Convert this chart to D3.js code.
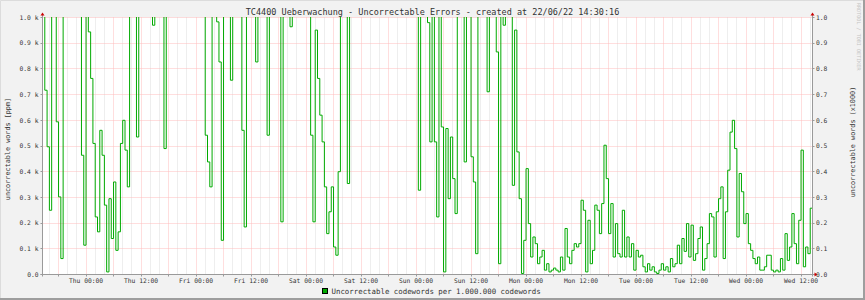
<!DOCTYPE html>
<html>
<head>
<meta charset="utf-8">
<script src="https://cdn.jsdelivr.net/npm/d3@7"></script>
<style>
  body { margin: 0; background: #f2f2f2; }
  text { font-family: "DejaVu Sans Mono", monospace; }
</style>
</head>
<body>
<script>
// values above the rigid 1.0 k limit are clipped away, like rrdtool does
const H = 1500;

const startTime = new Date(Date.UTC(2022, 5, 15, 14, 30));
const endTime = new Date(Date.UTC(2022, 5, 22, 14, 30));
const stepMinutes = 30;

// uncorrectable codewords per 1.000.000, one value per 30 minutes
const errorValues = [
  H, 717, 497, 250, H, H, 594, 302, 62, H,
  H, H, H, H, H, H, H, 464, 114, H,
  944, 763, 510, 224, 166, 561, 464, 270, 10, 295,
  140, 360, 94, 166, 510, 600, 484, 341, H, H,
  H, 535, H, H, H, H, H, H, 970, H,
  H, H, H, 490, H, H, H, H, H, H,
  H, H, H, H, H, H, H, H, H, H,
  H, 542, 438, 341, H, H, 983, 827, 133, H,
  H, H, 756, H, H, H, H, 561, 185, H,
  H, H, H, 827, H, H, H, H, 542, H,
  H, H, H, H, 205, H, H, H, 964, H,
  H, H, H, H, H, H, H, 542, 205, 951,
  763, 620, 516, 341, 159, 244, 341, 107, 75, 400,
  H, H, H, 354, H, H, H, H, H, H,
  H, H, H, H, H, H, H, H, H, H,
  H, H, H, H, H, H, H, H, H, H,
  H, H, H, H, 328, H, H, H, 980, 516,
  H, 516, 224, H, 574, 10, 568, 295, 535, 373,
  237, H, H, H, 438, H, H, 458, 360, 81,
  H, H, H, H, 711, H, H, H, 866, 42,
  H, 970, H, H, H, 347, 951, 477, 295, 4,
  133, 412, 198, 68, 146, 120, 42, 68, 94, 17,
  42, 10, 17, 25, 17, 10, 68, 17, 179, 68,
  42, 94, 120, 107, 120, 289, 250, 10, 211, 42,
  94, 270, 250, 159, 276, 503, 373, 159, 276, 68,
  198, 81, 68, 250, 68, 146, 68, 120, 17, 94,
  68, 75, 30, 10, 42, 17, 30, 10, 4, 17,
  42, 17, 30, 10, 62, 30, 42, 114, 42, 140,
  90, 198, 68, 192, 55, 81, 140, 185, 17, 62,
  120, 237, 224, 68, 244, 295, 341, 62, 244, 406,
  554, 600, 490, 146, 393, 322, 198, 237, 120, 94,
  62, 42, 68, 17, 17, 30, 75, 75, 17, 10,
  17, 10, 62, 17, 159, 55, 107, 237, 120, 42,
  211, 484, 30, 107, 81, 258
];

const yTicks = [0, 100, 200, 300, 400, 500, 600, 700, 800, 900, 1000];
const leftTickLabels = ['0.0', '0.1 k', '0.2 k', '0.3 k', '0.4 k', '0.5 k', '0.6 k', '0.7 k', '0.8 k', '0.9 k', '1.0 k'];
const rightTickLabels = ['0.0', '0.1', '0.2', '0.3', '0.4', '0.5', '0.6', '0.7', '0.8', '0.9', '1.0'];

const titleText = 'TC4400 Ueberwachung - Uncorrectable Errors - created at 22/06/22 14:30:16';
const leftAxisTitle = 'uncorrectable words [ppm]';
const rightAxisTitle = 'uncorrectable words (x1000)';
const legendText = 'Uncorrectable codewords per 1.000.000 codewords';
const watermarkText = 'RRDTOOL / TOBI OETIKER';

const Constants = {
  width: 865,
  height: 300,
  left: 42.5,
  right: 812.5,
  top: 17.5,
  bottom: 274.5,
  background: '#f2f2f2',
  canvas: '#ffffff',
  lineColor: '#00aa00',
  minorGrid: '#dcdcdc',
  majorGrid: '#ffbcbc',
  axisColor: '#9a9a9a',
  arrowColor: '#cc0000',
  fontColor: '#333333',
};

const svg = d3.select('body')
  .append('svg')
  .attr('width', Constants.width)
  .attr('height', Constants.height)
  .attr('xmlns', 'http://www.w3.org/2000/svg');

// frame
svg.append('rect')
  .attr('width', Constants.width)
  .attr('height', Constants.height)
  .attr('fill', Constants.background);
svg.append('path')
  .attr('d', `M0.5,${Constants.height} V0.5 H${Constants.width}`)
  .attr('fill', 'none').attr('stroke', '#dcdcdc');
svg.append('path')
  .attr('d', `M${Constants.width - 1},0 V${Constants.height - 1} H0`)
  .attr('fill', 'none').attr('stroke', '#9e9e9e').attr('stroke-width', 2);

// canvas
svg.append('rect')
  .attr('x', Constants.left)
  .attr('y', Constants.top)
  .attr('width', Constants.right - Constants.left)
  .attr('height', Constants.bottom - Constants.top)
  .attr('fill', Constants.canvas);

const x = d3.scaleUtc().domain([startTime, endTime]).range([Constants.left, Constants.right]);
const y = d3.scaleLinear().domain([0, 1000]).range([Constants.bottom, Constants.top]);
const snap = v => Math.round(v - 0.5) + 0.5;

// grid: minor every 2 h, major every 6 h, horizontal every 0.1 k
const majorTimes = x.ticks(d3.utcHour.every(6));
const minorTimes = x.ticks(d3.utcHour.every(2)).filter(t => t.getUTCHours() % 6 !== 0);

const grid = svg.append('g').attr('class', 'grid').attr('stroke-dasharray', '1,1');

grid.selectAll('.minor')
  .data(minorTimes)
  .enter()
  .append('line')
  .attr('x1', t => snap(x(t)))
  .attr('x2', t => snap(x(t)))
  .attr('y1', Constants.top)
  .attr('y2', Constants.bottom)
  .attr('stroke', Constants.minorGrid);

grid.selectAll('.major-x')
  .data(majorTimes)
  .enter()
  .append('line')
  .attr('x1', t => snap(x(t)))
  .attr('x2', t => snap(x(t)))
  .attr('y1', Constants.top)
  .attr('y2', Constants.bottom)
  .attr('stroke', Constants.majorGrid);

grid.selectAll('.major-y')
  .data(yTicks.slice(1))
  .enter()
  .append('line')
  .attr('x1', Constants.left)
  .attr('x2', Constants.right)
  .attr('y1', v => snap(y(v)))
  .attr('y2', v => snap(y(v)))
  .attr('stroke', Constants.majorGrid);

// data line
svg.append('clipPath')
  .attr('id', 'plot-clip')
  .append('rect')
  .attr('x', Constants.left)
  .attr('y', Constants.top - 0.5)
  .attr('width', Constants.right - Constants.left)
  .attr('height', Constants.bottom - Constants.top + 1);

const points = errorValues.map((v, i) => ({ t: new Date(+startTime + i * stepMinutes * 60000), v }));
points.push({ t: endTime, v: errorValues[errorValues.length - 1] });

const line = d3.line()
  .x(d => x(d.t))
  .y(d => y(d.v))
  .curve(d3.curveStepAfter);

svg.append('path')
  .datum(points)
  .attr('clip-path', 'url(#plot-clip)')
  .attr('d', line)
  .attr('fill', 'none')
  .attr('stroke', Constants.lineColor)
  .attr('stroke-width', 1);

// axes
const axes = svg.append('g').attr('stroke', Constants.axisColor).attr('fill', 'none');
axes.append('line')
  .attr('x1', Constants.left).attr('x2', Constants.left)
  .attr('y1', Constants.bottom + 2).attr('y2', Constants.top - 3);
axes.append('line')
  .attr('x1', Constants.right).attr('x2', Constants.right)
  .attr('y1', Constants.bottom + 2).attr('y2', Constants.top - 3);
axes.append('line')
  .attr('x1', Constants.left - 2).attr('x2', Constants.right + 3)
  .attr('y1', Constants.bottom).attr('y2', Constants.bottom);

axes.selectAll('.ytick')
  .data(yTicks)
  .enter()
  .append('line')
  .attr('x1', Constants.left - 2).attr('x2', Constants.left)
  .attr('y1', v => snap(y(v))).attr('y2', v => snap(y(v)));

axes.selectAll('.rtick')
  .data(yTicks)
  .enter()
  .append('line')
  .attr('x1', Constants.right).attr('x2', Constants.right + 2)
  .attr('y1', v => snap(y(v))).attr('y2', v => snap(y(v)));

axes.selectAll('.xtick')
  .data(majorTimes)
  .enter()
  .append('line')
  .attr('x1', t => snap(x(t))).attr('x2', t => snap(x(t)))
  .attr('y1', Constants.bottom).attr('y2', Constants.bottom + 2);

// arrow heads
const arrows = [
  `M${Constants.left - 2},${Constants.top - 2} L${Constants.left + 2},${Constants.top - 2} L${Constants.left},${Constants.top - 5} Z`,
  `M${Constants.right - 2},${Constants.top - 2} L${Constants.right + 2},${Constants.top - 2} L${Constants.right},${Constants.top - 5} Z`,
  `M${Constants.right + 2},${Constants.bottom - 2} L${Constants.right + 2},${Constants.bottom + 2} L${Constants.right + 5},${Constants.bottom} Z`,
];
svg.selectAll('.arrow')
  .data(arrows)
  .enter()
  .append('path')
  .attr('d', d => d)
  .attr('fill', Constants.arrowColor);

// tick labels
svg.selectAll('.xlabel')
  .data(x.ticks(d3.utcHour.every(12)))
  .enter()
  .append('text')
  .attr('x', t => x(t))
  .attr('y', 283)
  .attr('text-anchor', 'middle')
  .attr('font-size', 6.3)
  .attr('fill', Constants.fontColor)
  .text(d3.utcFormat('%a %H:%M'));

svg.selectAll('.ylabel')
  .data(yTicks)
  .enter()
  .append('text')
  .attr('x', 38.5)
  .attr('y', v => y(v) + 2.2)
  .attr('text-anchor', 'end')
  .attr('font-size', 6.3)
  .attr('fill', Constants.fontColor)
  .text((v, i) => leftTickLabels[i]);

svg.selectAll('.rlabel')
  .data(yTicks)
  .enter()
  .append('text')
  .attr('x', 816)
  .attr('y', v => y(v) + 2.2)
  .attr('font-size', 6.3)
  .attr('fill', Constants.fontColor)
  .text((v, i) => rightTickLabels[i]);

// titles
svg.append('text')
  .attr('x', 432.5)
  .attr('y', 15)
  .attr('text-anchor', 'middle')
  .attr('font-size', 8.5)
  .attr('fill', Constants.fontColor)
  .text(titleText);

svg.append('text')
  .attr('transform', 'translate(9.5,149) rotate(-90)')
  .attr('text-anchor', 'middle')
  .attr('font-size', 6.8)
  .attr('fill', Constants.fontColor)
  .text(leftAxisTitle);

svg.append('text')
  .attr('transform', 'translate(854.5,142) rotate(-90)')
  .attr('text-anchor', 'middle')
  .attr('font-size', 6.8)
  .attr('fill', Constants.fontColor)
  .text(rightAxisTitle);

svg.append('text')
  .attr('transform', 'translate(857,3) rotate(90)')
  .attr('font-size', 5.1)
  .attr('fill', '#c4c4c4')
  .text(watermarkText);

// legend
svg.append('rect')
  .attr('x', 322.5)
  .attr('y', 288.5)
  .attr('width', 5)
  .attr('height', 5)
  .attr('fill', Constants.lineColor)
  .attr('stroke', '#000');

svg.append('text')
  .attr('x', 331.5)
  .attr('y', 294.3)
  .attr('font-size', 7.4)
  .attr('fill', Constants.fontColor)
  .text(legendText);
</script>
</body>
</html>
